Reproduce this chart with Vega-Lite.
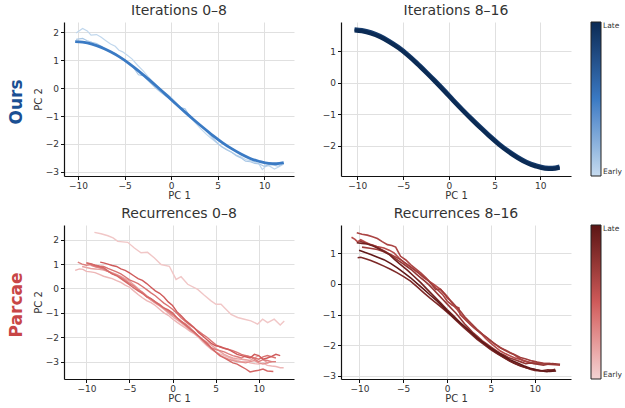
{
"$schema":"https://vega.github.io/schema/vega-lite/v6.json",
"background":"white",
"padding":{"left":8,"top":4,"right":0,"bottom":0},
"config":{
 "font":"DejaVu Sans",
 "view":{"stroke":null},
 "axis":{"gridColor":"#e0e0e0","gridWidth":1,"domainColor":"#111","domainWidth":1.2,"tickColor":"#111","tickSize":3.5,"tickWidth":1,"labelFontSize":9,"labelColor":"#333","labelPadding":2,"titleFontSize":10,"titleFontWeight":"normal","titleColor":"#333","labelFont":"DejaVu Sans","titleFont":"DejaVu Sans","labelFlush":false,"labelOverlap":false},
 "axisX":{"labelPadding":1.5,"titlePadding":0},
 "axisY":{"titlePadding":2},
 "title":{"fontSize":14,"fontWeight":"normal","color":"#333","font":"DejaVu Sans","offset":4},
 "legend":{"labelFontSize":7.5,"labelColor":"#333","labelOffset":2,"gradientStrokeColor":"#222","gradientStrokeWidth":1,"offset":20,"padding":0}
},
"datasets":{
"tl":[
{"s":"a","c":0.02,"x":-10.2,"y":1.98},{"s":"a","c":0.02,"x":-9.5,"y":2.14},{"s":"a","c":0.02,"x":-9.0,"y":2.05},{"s":"a","c":0.02,"x":-8.6,"y":1.9},{"s":"a","c":0.02,"x":-8.0,"y":1.92},{"s":"a","c":0.02,"x":-7.5,"y":1.82},{"s":"a","c":0.02,"x":-7.0,"y":1.7},{"s":"a","c":0.02,"x":-6.5,"y":1.58},{"s":"a","c":0.02,"x":-6.0,"y":1.5},{"s":"a","c":0.02,"x":-5.6,"y":1.36},{"s":"a","c":0.02,"x":-5.2,"y":1.3},{"s":"a","c":0.02,"x":-4.7,"y":1.18},{"s":"a","c":0.02,"x":-4.2,"y":1.05},{"s":"a","c":0.02,"x":-3.6,"y":0.82},{"s":"a","c":0.02,"x":-3.0,"y":0.62},{"s":"a","c":0.02,"x":-2.5,"y":0.42},{"s":"a","c":0.02,"x":-2.0,"y":0.24},{"s":"a","c":0.02,"x":-1.5,"y":0.08},{"s":"a","c":0.02,"x":-1.0,"y":-0.08},{"s":"a","c":0.02,"x":-0.5,"y":-0.2},{"s":"a","c":0.02,"x":0.0,"y":-0.33},{"s":"a","c":0.02,"x":0.5,"y":-0.5},{"s":"a","c":0.02,"x":1.0,"y":-0.7},{"s":"a","c":0.02,"x":1.6,"y":-0.86},{"s":"a","c":0.02,"x":2.2,"y":-1.1},{"s":"a","c":0.02,"x":2.7,"y":-1.28},{"s":"a","c":0.02,"x":3.2,"y":-1.46},{"s":"a","c":0.02,"x":3.8,"y":-1.66},{"s":"a","c":0.02,"x":4.3,"y":-1.8},{"s":"a","c":0.02,"x":4.8,"y":-1.93},{"s":"a","c":0.02,"x":5.4,"y":-2.08},{"s":"a","c":0.02,"x":6.0,"y":-2.2},{"s":"a","c":0.02,"x":6.5,"y":-2.3},{"s":"a","c":0.02,"x":7.0,"y":-2.4},{"s":"a","c":0.02,"x":7.5,"y":-2.46},{"s":"a","c":0.02,"x":8.0,"y":-2.56},{"s":"a","c":0.02,"x":8.5,"y":-2.6},{"s":"a","c":0.02,"x":9.0,"y":-2.65},{"s":"a","c":0.02,"x":9.4,"y":-2.7},{"s":"a","c":0.02,"x":9.8,"y":-2.92},{"s":"a","c":0.02,"x":10.1,"y":-2.82},{"s":"a","c":0.02,"x":10.5,"y":-2.78},{"s":"a","c":0.02,"x":11.1,"y":-2.9},{"s":"a","c":0.02,"x":11.6,"y":-2.82},{"s":"a","c":0.02,"x":12.1,"y":-2.72},
{"s":"b","c":0.1,"x":-10.2,"y":1.75},{"s":"b","c":0.1,"x":-9.5,"y":1.78},{"s":"b","c":0.1,"x":-9,"y":1.7},{"s":"b","c":0.1,"x":-8.5,"y":1.64},{"s":"b","c":0.1,"x":-8,"y":1.6},{"s":"b","c":0.1,"x":-7.5,"y":1.5},{"s":"b","c":0.1,"x":-7,"y":1.38},{"s":"b","c":0.1,"x":-6.5,"y":1.3},{"s":"b","c":0.1,"x":-6,"y":1.24},{"s":"b","c":0.1,"x":-5.5,"y":1.12},{"s":"b","c":0.1,"x":-5,"y":1.02},{"s":"b","c":0.1,"x":-4.5,"y":0.86},{"s":"b","c":0.1,"x":-4,"y":0.72},{"s":"b","c":0.1,"x":-3.5,"y":0.48},{"s":"b","c":0.1,"x":-3,"y":0.45},{"s":"b","c":0.1,"x":-2.5,"y":0.28},{"s":"b","c":0.1,"x":-2,"y":0.12},{"s":"b","c":0.1,"x":-1.5,"y":-0.04},{"s":"b","c":0.1,"x":-1,"y":-0.18},{"s":"b","c":0.1,"x":-0.5,"y":-0.3},{"s":"b","c":0.1,"x":0,"y":-0.4},{"s":"b","c":0.1,"x":0.5,"y":-0.55},{"s":"b","c":0.1,"x":1,"y":-0.7},{"s":"b","c":0.1,"x":1.5,"y":-0.74},{"s":"b","c":0.1,"x":2,"y":-1.0},{"s":"b","c":0.1,"x":2.5,"y":-1.14},{"s":"b","c":0.1,"x":3,"y":-1.3},{"s":"b","c":0.1,"x":3.5,"y":-1.45},{"s":"b","c":0.1,"x":4,"y":-1.62},{"s":"b","c":0.1,"x":4.5,"y":-1.8},{"s":"b","c":0.1,"x":5,"y":-1.98},{"s":"b","c":0.1,"x":5.5,"y":-2.12},{"s":"b","c":0.1,"x":6,"y":-2.22},{"s":"b","c":0.1,"x":6.5,"y":-2.3},{"s":"b","c":0.1,"x":7,"y":-2.42},{"s":"b","c":0.1,"x":7.5,"y":-2.5},{"s":"b","c":0.1,"x":8,"y":-2.62},{"s":"b","c":0.1,"x":8.5,"y":-2.64},{"s":"b","c":0.1,"x":9,"y":-2.7},{"s":"b","c":0.1,"x":9.5,"y":-2.72},{"s":"b","c":0.1,"x":10,"y":-2.8},{"s":"b","c":0.1,"x":10.5,"y":-2.74},{"s":"b","c":0.1,"x":11,"y":-2.76},{"s":"b","c":0.1,"x":11.5,"y":-2.8},{"s":"b","c":0.1,"x":12.1,"y":-2.7}
],
"tlm":[
{"s":"m","c":0.5,"x":-10.3,"y":1.67},{"s":"m","c":0.5,"x":-9.5,"y":1.645},{"s":"m","c":0.5,"x":-8.5,"y":1.575},{"s":"m","c":0.5,"x":-7.5,"y":1.46},{"s":"m","c":0.5,"x":-6.5,"y":1.3},{"s":"m","c":0.5,"x":-5.5,"y":1.11},{"s":"m","c":0.5,"x":-4.5,"y":0.88},{"s":"m","c":0.5,"x":-3.5,"y":0.62},{"s":"m","c":0.5,"x":-2.5,"y":0.34},{"s":"m","c":0.5,"x":-1.5,"y":0.05},{"s":"m","c":0.5,"x":-0.5,"y":-0.25},{"s":"m","c":0.5,"x":0.5,"y":-0.56},{"s":"m","c":0.5,"x":1.5,"y":-0.86},{"s":"m","c":0.5,"x":2.5,"y":-1.15},{"s":"m","c":0.5,"x":3.5,"y":-1.43},{"s":"m","c":0.5,"x":4.5,"y":-1.7},{"s":"m","c":0.5,"x":5.5,"y":-1.95},{"s":"m","c":0.5,"x":6.5,"y":-2.17},{"s":"m","c":0.5,"x":7.5,"y":-2.36},{"s":"m","c":0.5,"x":8.5,"y":-2.52},{"s":"m","c":0.5,"x":9.5,"y":-2.63},{"s":"m","c":0.5,"x":10.5,"y":-2.7},{"s":"m","c":0.5,"x":11.3,"y":-2.71},{"s":"m","c":0.5,"x":12.1,"y":-2.67}
],
"tr":[
{"s":"p","c":0.88,"x":-10.3,"y":1.69},{"s":"p","c":0.88,"x":-9.5,"y":1.665},{"s":"p","c":0.88,"x":-8.5,"y":1.595},{"s":"p","c":0.88,"x":-7.5,"y":1.48},{"s":"p","c":0.88,"x":-6.5,"y":1.32},{"s":"p","c":0.88,"x":-5.5,"y":1.13},{"s":"p","c":0.88,"x":-4.5,"y":0.9},{"s":"p","c":0.88,"x":-3.5,"y":0.64},{"s":"p","c":0.88,"x":-2.5,"y":0.36},{"s":"p","c":0.88,"x":-1.5,"y":0.07},{"s":"p","c":0.88,"x":-0.5,"y":-0.23},{"s":"p","c":0.88,"x":0.5,"y":-0.54},{"s":"p","c":0.88,"x":1.5,"y":-0.84},{"s":"p","c":0.88,"x":2.5,"y":-1.13},{"s":"p","c":0.88,"x":3.5,"y":-1.41},{"s":"p","c":0.88,"x":4.5,"y":-1.68},{"s":"p","c":0.88,"x":5.5,"y":-1.93},{"s":"p","c":0.88,"x":6.5,"y":-2.15},{"s":"p","c":0.88,"x":7.5,"y":-2.34},{"s":"p","c":0.88,"x":8.5,"y":-2.5},{"s":"p","c":0.88,"x":9.5,"y":-2.61},{"s":"p","c":0.88,"x":10.5,"y":-2.68},{"s":"p","c":0.88,"x":11.3,"y":-2.69},{"s":"p","c":0.88,"x":12.1,"y":-2.65},
{"s":"q","c":1.0,"x":-10.3,"y":1.65},{"s":"q","c":1.0,"x":-9.5,"y":1.625},{"s":"q","c":1.0,"x":-8.5,"y":1.555},{"s":"q","c":1.0,"x":-7.5,"y":1.44},{"s":"q","c":1.0,"x":-6.5,"y":1.28},{"s":"q","c":1.0,"x":-5.5,"y":1.09},{"s":"q","c":1.0,"x":-4.5,"y":0.86},{"s":"q","c":1.0,"x":-3.5,"y":0.6},{"s":"q","c":1.0,"x":-2.5,"y":0.32},{"s":"q","c":1.0,"x":-1.5,"y":0.03},{"s":"q","c":1.0,"x":-0.5,"y":-0.27},{"s":"q","c":1.0,"x":0.5,"y":-0.58},{"s":"q","c":1.0,"x":1.5,"y":-0.88},{"s":"q","c":1.0,"x":2.5,"y":-1.17},{"s":"q","c":1.0,"x":3.5,"y":-1.45},{"s":"q","c":1.0,"x":4.5,"y":-1.72},{"s":"q","c":1.0,"x":5.5,"y":-1.97},{"s":"q","c":1.0,"x":6.5,"y":-2.19},{"s":"q","c":1.0,"x":7.5,"y":-2.38},{"s":"q","c":1.0,"x":8.5,"y":-2.54},{"s":"q","c":1.0,"x":9.5,"y":-2.65},{"s":"q","c":1.0,"x":10.5,"y":-2.72},{"s":"q","c":1.0,"x":11.3,"y":-2.73},{"s":"q","c":1.0,"x":12.1,"y":-2.69}
],
"bl":[
{"s":"F","c":0.05,"x":-9.07,"y":2.3},{"s":"F","c":0.05,"x":-8.3,"y":2.24},{"s":"F","c":0.05,"x":-7.5,"y":2.16},{"s":"F","c":0.05,"x":-6.9,"y":2.07},{"s":"F","c":0.05,"x":-6.36,"y":1.93},{"s":"F","c":0.05,"x":-5.2,"y":1.89},{"s":"F","c":0.05,"x":-4.43,"y":1.66},{"s":"F","c":0.05,"x":-3.66,"y":1.46},{"s":"F","c":0.05,"x":-2.9,"y":1.48},{"s":"F","c":0.05,"x":-2.1,"y":1.25},{"s":"F","c":0.05,"x":-1.33,"y":0.98},{"s":"F","c":0.05,"x":-0.37,"y":0.91},{"s":"F","c":0.05,"x":0.41,"y":0.37},{"s":"F","c":0.05,"x":0.99,"y":0.48},{"s":"F","c":0.05,"x":1.76,"y":0.17},{"s":"F","c":0.05,"x":2.92,"y":-0.04},{"s":"F","c":0.05,"x":3.69,"y":-0.28},{"s":"F","c":0.05,"x":4.47,"y":-0.51},{"s":"F","c":0.05,"x":5.05,"y":-0.65},{"s":"F","c":0.05,"x":5.63,"y":-0.65},{"s":"F","c":0.05,"x":6.4,"y":-0.92},{"s":"F","c":0.05,"x":6.79,"y":-1.06},{"s":"F","c":0.05,"x":7.56,"y":-1.19},{"s":"F","c":0.05,"x":8.34,"y":-1.26},{"s":"F","c":0.05,"x":9.1,"y":-1.33},{"s":"F","c":0.05,"x":9.88,"y":-1.46},{"s":"F","c":0.05,"x":10.46,"y":-1.26},{"s":"F","c":0.05,"x":11.04,"y":-1.4},{"s":"F","c":0.05,"x":11.8,"y":-1.26},{"s":"F","c":0.05,"x":12.5,"y":-1.5},{"s":"F","c":0.05,"x":12.97,"y":-1.33},
{"s":"L3","c":0.12,"x":-11.3,"y":0.74},{"s":"L3","c":0.12,"x":-10.8,"y":0.8},{"s":"L3","c":0.12,"x":-10.4,"y":0.78},{"s":"L3","c":0.12,"x":-10,"y":0.7},{"s":"L3","c":0.12,"x":-9.5,"y":0.68},{"s":"L3","c":0.12,"x":-9,"y":0.65},{"s":"L3","c":0.12,"x":-8.5,"y":0.58},{"s":"L3","c":0.12,"x":-8,"y":0.5},{"s":"L3","c":0.12,"x":-7.5,"y":0.45},{"s":"L3","c":0.12,"x":-7,"y":0.4},{"s":"L3","c":0.12,"x":-6.5,"y":0.32},{"s":"L3","c":0.12,"x":-6,"y":0.25},{"s":"L3","c":0.12,"x":-5.5,"y":0.14},{"s":"L3","c":0.12,"x":-5,"y":0.05},{"s":"L3","c":0.12,"x":-4.5,"y":-0.1},{"s":"L3","c":0.12,"x":-4,"y":-0.25},{"s":"L3","c":0.12,"x":-3.5,"y":-0.38},{"s":"L3","c":0.12,"x":-3,"y":-0.5},{"s":"L3","c":0.12,"x":-2.5,"y":-0.58},{"s":"L3","c":0.12,"x":-2,"y":-0.7},{"s":"L3","c":0.12,"x":-1.5,"y":-0.85},{"s":"L3","c":0.12,"x":-1,"y":-1.0},{"s":"L3","c":0.12,"x":-0.5,"y":-1.1},{"s":"L3","c":0.12,"x":0,"y":-1.25},{"s":"L3","c":0.12,"x":0.5,"y":-1.38},{"s":"L3","c":0.12,"x":1,"y":-1.5},{"s":"L3","c":0.12,"x":1.5,"y":-1.62},{"s":"L3","c":0.12,"x":2,"y":-1.75},{"s":"L3","c":0.12,"x":2.5,"y":-1.85},{"s":"L3","c":0.12,"x":3,"y":-2.0},{"s":"L3","c":0.12,"x":3.5,"y":-2.18},{"s":"L3","c":0.12,"x":4,"y":-2.35},{"s":"L3","c":0.12,"x":4.5,"y":-2.5},{"s":"L3","c":0.12,"x":5,"y":-2.6},{"s":"L3","c":0.12,"x":5.5,"y":-2.68},{"s":"L3","c":0.12,"x":6,"y":-2.75},{"s":"L3","c":0.12,"x":6.5,"y":-2.82},{"s":"L3","c":0.12,"x":7,"y":-2.9},{"s":"L3","c":0.12,"x":7.5,"y":-2.95},{"s":"L3","c":0.12,"x":8,"y":-3.0},{"s":"L3","c":0.12,"x":8.5,"y":-2.98},{"s":"L3","c":0.12,"x":9,"y":-3.05},{"s":"L3","c":0.12,"x":9.5,"y":-3.08},{"s":"L3","c":0.12,"x":10,"y":-3.1},{"s":"L3","c":0.12,"x":10.5,"y":-3.05},{"s":"L3","c":0.12,"x":11,"y":-3.15},{"s":"L3","c":0.12,"x":11.5,"y":-3.18},{"s":"L3","c":0.12,"x":12,"y":-3.2},{"s":"L3","c":0.12,"x":12.5,"y":-3.25},{"s":"L3","c":0.12,"x":12.9,"y":-3.25},
{"s":"L5","c":0.2,"x":-10.5,"y":0.9},{"s":"L5","c":0.2,"x":-10,"y":0.86},{"s":"L5","c":0.2,"x":-9.5,"y":0.82},{"s":"L5","c":0.2,"x":-9,"y":0.8},{"s":"L5","c":0.2,"x":-8.5,"y":0.78},{"s":"L5","c":0.2,"x":-8,"y":0.75},{"s":"L5","c":0.2,"x":-7.5,"y":0.7},{"s":"L5","c":0.2,"x":-7,"y":0.65},{"s":"L5","c":0.2,"x":-6.5,"y":0.58},{"s":"L5","c":0.2,"x":-6,"y":0.5},{"s":"L5","c":0.2,"x":-5.5,"y":0.4},{"s":"L5","c":0.2,"x":-5,"y":0.3},{"s":"L5","c":0.2,"x":-4.5,"y":0.15},{"s":"L5","c":0.2,"x":-4,"y":0.0},{"s":"L5","c":0.2,"x":-3.5,"y":-0.18},{"s":"L5","c":0.2,"x":-3,"y":-0.35},{"s":"L5","c":0.2,"x":-2.5,"y":-0.48},{"s":"L5","c":0.2,"x":-2,"y":-0.6},{"s":"L5","c":0.2,"x":-1.5,"y":-0.72},{"s":"L5","c":0.2,"x":-1,"y":-0.85},{"s":"L5","c":0.2,"x":-0.5,"y":-1.0},{"s":"L5","c":0.2,"x":0,"y":-1.15},{"s":"L5","c":0.2,"x":0.5,"y":-1.28},{"s":"L5","c":0.2,"x":1,"y":-1.4},{"s":"L5","c":0.2,"x":1.5,"y":-1.55},{"s":"L5","c":0.2,"x":2,"y":-1.7},{"s":"L5","c":0.2,"x":2.5,"y":-1.82},{"s":"L5","c":0.2,"x":3,"y":-1.95},{"s":"L5","c":0.2,"x":3.5,"y":-2.08},{"s":"L5","c":0.2,"x":4,"y":-2.2},{"s":"L5","c":0.2,"x":4.5,"y":-2.32},{"s":"L5","c":0.2,"x":5,"y":-2.45},{"s":"L5","c":0.2,"x":5.5,"y":-2.58},{"s":"L5","c":0.2,"x":6,"y":-2.7},{"s":"L5","c":0.2,"x":6.5,"y":-2.78},{"s":"L5","c":0.2,"x":7,"y":-2.85},{"s":"L5","c":0.2,"x":7.5,"y":-2.88},{"s":"L5","c":0.2,"x":8,"y":-2.9},{"s":"L5","c":0.2,"x":8.5,"y":-2.92},{"s":"L5","c":0.2,"x":9,"y":-2.95},{"s":"L5","c":0.2,"x":9.5,"y":-2.85},{"s":"L5","c":0.2,"x":10,"y":-2.75},{"s":"L5","c":0.2,"x":10.5,"y":-2.9},{"s":"L5","c":0.2,"x":11,"y":-3.05},{"s":"L5","c":0.2,"x":11.5,"y":-3.0},{"s":"L5","c":0.2,"x":12,"y":-3.0},
{"s":"L7","c":0.28,"x":-9.5,"y":0.95},{"s":"L7","c":0.28,"x":-9,"y":0.9},{"s":"L7","c":0.28,"x":-8.5,"y":0.85},{"s":"L7","c":0.28,"x":-8,"y":0.78},{"s":"L7","c":0.28,"x":-7.5,"y":0.7},{"s":"L7","c":0.28,"x":-7,"y":0.62},{"s":"L7","c":0.28,"x":-6.5,"y":0.55},{"s":"L7","c":0.28,"x":-6,"y":0.45},{"s":"L7","c":0.28,"x":-5.5,"y":0.35},{"s":"L7","c":0.28,"x":-5,"y":0.22},{"s":"L7","c":0.28,"x":-4.5,"y":0.1},{"s":"L7","c":0.28,"x":-4,"y":-0.05},{"s":"L7","c":0.28,"x":-3.5,"y":-0.2},{"s":"L7","c":0.28,"x":-3,"y":-0.32},{"s":"L7","c":0.28,"x":-2.5,"y":-0.45},{"s":"L7","c":0.28,"x":-2,"y":-0.58},{"s":"L7","c":0.28,"x":-1.5,"y":-0.7},{"s":"L7","c":0.28,"x":-1,"y":-0.82},{"s":"L7","c":0.28,"x":-0.5,"y":-0.95},{"s":"L7","c":0.28,"x":0,"y":-1.08},{"s":"L7","c":0.28,"x":0.5,"y":-1.2},{"s":"L7","c":0.28,"x":1,"y":-1.35},{"s":"L7","c":0.28,"x":1.5,"y":-1.5},{"s":"L7","c":0.28,"x":2,"y":-1.65},{"s":"L7","c":0.28,"x":2.5,"y":-1.8},{"s":"L7","c":0.28,"x":3,"y":-1.95},{"s":"L7","c":0.28,"x":3.5,"y":-2.1},{"s":"L7","c":0.28,"x":4,"y":-2.28},{"s":"L7","c":0.28,"x":4.5,"y":-2.45},{"s":"L7","c":0.28,"x":5,"y":-2.6},{"s":"L7","c":0.28,"x":5.5,"y":-2.75},{"s":"L7","c":0.28,"x":6,"y":-2.82},{"s":"L7","c":0.28,"x":6.5,"y":-2.9},{"s":"L7","c":0.28,"x":7,"y":-2.95},{"s":"L7","c":0.28,"x":7.5,"y":-3.0},{"s":"L7","c":0.28,"x":8,"y":-3.02},{"s":"L7","c":0.28,"x":8.5,"y":-3.05},{"s":"L7","c":0.28,"x":9,"y":-3.0},{"s":"L7","c":0.28,"x":9.5,"y":-2.95},{"s":"L7","c":0.28,"x":10,"y":-3.05},{"s":"L7","c":0.28,"x":10.5,"y":-3.1},{"s":"L7","c":0.28,"x":11,"y":-3.05},{"s":"L7","c":0.28,"x":11.5,"y":-3.0},
{"s":"L4","c":0.35,"x":-11,"y":1.08},{"s":"L4","c":0.35,"x":-10.5,"y":1.0},{"s":"L4","c":0.35,"x":-10,"y":0.95},{"s":"L4","c":0.35,"x":-9.5,"y":0.98},{"s":"L4","c":0.35,"x":-9,"y":0.9},{"s":"L4","c":0.35,"x":-8.5,"y":0.86},{"s":"L4","c":0.35,"x":-8,"y":0.8},{"s":"L4","c":0.35,"x":-7.5,"y":0.7},{"s":"L4","c":0.35,"x":-7,"y":0.6},{"s":"L4","c":0.35,"x":-6.5,"y":0.55},{"s":"L4","c":0.35,"x":-6,"y":0.45},{"s":"L4","c":0.35,"x":-5.5,"y":0.32},{"s":"L4","c":0.35,"x":-5,"y":0.2},{"s":"L4","c":0.35,"x":-4.5,"y":0.1},{"s":"L4","c":0.35,"x":-4,"y":-0.05},{"s":"L4","c":0.35,"x":-3.5,"y":-0.15},{"s":"L4","c":0.35,"x":-3,"y":-0.3},{"s":"L4","c":0.35,"x":-2.5,"y":-0.42},{"s":"L4","c":0.35,"x":-2,"y":-0.55},{"s":"L4","c":0.35,"x":-1.5,"y":-0.65},{"s":"L4","c":0.35,"x":-1,"y":-0.8},{"s":"L4","c":0.35,"x":-0.5,"y":-0.92},{"s":"L4","c":0.35,"x":0,"y":-1.05},{"s":"L4","c":0.35,"x":0.5,"y":-1.2},{"s":"L4","c":0.35,"x":1,"y":-1.35},{"s":"L4","c":0.35,"x":1.5,"y":-1.45},{"s":"L4","c":0.35,"x":2,"y":-1.6},{"s":"L4","c":0.35,"x":2.5,"y":-1.78},{"s":"L4","c":0.35,"x":3,"y":-1.95},{"s":"L4","c":0.35,"x":3.5,"y":-2.12},{"s":"L4","c":0.35,"x":4,"y":-2.3},{"s":"L4","c":0.35,"x":4.5,"y":-2.42},{"s":"L4","c":0.35,"x":5,"y":-2.5},{"s":"L4","c":0.35,"x":5.5,"y":-2.55},{"s":"L4","c":0.35,"x":6,"y":-2.6},{"s":"L4","c":0.35,"x":6.5,"y":-2.68},{"s":"L4","c":0.35,"x":7,"y":-2.75},{"s":"L4","c":0.35,"x":7.5,"y":-2.8},{"s":"L4","c":0.35,"x":8,"y":-2.85},{"s":"L4","c":0.35,"x":8.5,"y":-2.75},{"s":"L4","c":0.35,"x":9,"y":-2.8},{"s":"L4","c":0.35,"x":9.5,"y":-2.9},{"s":"L4","c":0.35,"x":10,"y":-3.0},{"s":"L4","c":0.35,"x":10.5,"y":-2.92},{"s":"L4","c":0.35,"x":11,"y":-2.95},{"s":"L4","c":0.35,"x":11.5,"y":-3.0},{"s":"L4","c":0.35,"x":12,"y":-3.0},
{"s":"L6","c":0.4,"x":-10,"y":1.05},{"s":"L6","c":0.4,"x":-9.5,"y":1.0},{"s":"L6","c":0.4,"x":-9,"y":0.95},{"s":"L6","c":0.4,"x":-8.5,"y":0.92},{"s":"L6","c":0.4,"x":-8,"y":0.9},{"s":"L6","c":0.4,"x":-7.5,"y":0.82},{"s":"L6","c":0.4,"x":-7,"y":0.75},{"s":"L6","c":0.4,"x":-6.5,"y":0.68},{"s":"L6","c":0.4,"x":-6,"y":0.6},{"s":"L6","c":0.4,"x":-5.5,"y":0.48},{"s":"L6","c":0.4,"x":-5,"y":0.35},{"s":"L6","c":0.4,"x":-4.5,"y":0.28},{"s":"L6","c":0.4,"x":-4,"y":0.2},{"s":"L6","c":0.4,"x":-3.5,"y":0.08},{"s":"L6","c":0.4,"x":-3,"y":-0.05},{"s":"L6","c":0.4,"x":-2.5,"y":-0.18},{"s":"L6","c":0.4,"x":-2,"y":-0.3},{"s":"L6","c":0.4,"x":-1.5,"y":-0.45},{"s":"L6","c":0.4,"x":-1,"y":-0.6},{"s":"L6","c":0.4,"x":-0.5,"y":-0.72},{"s":"L6","c":0.4,"x":0,"y":-0.85},{"s":"L6","c":0.4,"x":0.5,"y":-1.02},{"s":"L6","c":0.4,"x":1,"y":-1.2},{"s":"L6","c":0.4,"x":1.5,"y":-1.35},{"s":"L6","c":0.4,"x":2,"y":-1.5},{"s":"L6","c":0.4,"x":2.5,"y":-1.62},{"s":"L6","c":0.4,"x":3,"y":-1.75},{"s":"L6","c":0.4,"x":3.5,"y":-1.88},{"s":"L6","c":0.4,"x":4,"y":-2.0},{"s":"L6","c":0.4,"x":4.5,"y":-2.15},{"s":"L6","c":0.4,"x":5,"y":-2.3},{"s":"L6","c":0.4,"x":5.5,"y":-2.4},{"s":"L6","c":0.4,"x":6,"y":-2.45},{"s":"L6","c":0.4,"x":6.5,"y":-2.5},{"s":"L6","c":0.4,"x":7,"y":-2.55},{"s":"L6","c":0.4,"x":7.5,"y":-2.62},{"s":"L6","c":0.4,"x":8,"y":-2.7},{"s":"L6","c":0.4,"x":8.5,"y":-2.75},{"s":"L6","c":0.4,"x":9,"y":-2.8},{"s":"L6","c":0.4,"x":9.5,"y":-2.85},{"s":"L6","c":0.4,"x":10,"y":-2.9},{"s":"L6","c":0.4,"x":10.5,"y":-2.8},{"s":"L6","c":0.4,"x":11,"y":-2.75},{"s":"L6","c":0.4,"x":11.5,"y":-2.8},{"s":"L6","c":0.4,"x":12,"y":-2.85},
{"s":"L2","c":0.45,"x":-10,"y":1.05},{"s":"L2","c":0.45,"x":-9.5,"y":1.02},{"s":"L2","c":0.45,"x":-9,"y":0.95},{"s":"L2","c":0.45,"x":-8.5,"y":0.9},{"s":"L2","c":0.45,"x":-8,"y":0.85},{"s":"L2","c":0.45,"x":-7.5,"y":0.72},{"s":"L2","c":0.45,"x":-7,"y":0.6},{"s":"L2","c":0.45,"x":-6.5,"y":0.52},{"s":"L2","c":0.45,"x":-6,"y":0.4},{"s":"L2","c":0.45,"x":-5.5,"y":0.28},{"s":"L2","c":0.45,"x":-5,"y":0.15},{"s":"L2","c":0.45,"x":-4.5,"y":0.02},{"s":"L2","c":0.45,"x":-4,"y":-0.1},{"s":"L2","c":0.45,"x":-3.5,"y":-0.2},{"s":"L2","c":0.45,"x":-3,"y":-0.35},{"s":"L2","c":0.45,"x":-2.5,"y":-0.42},{"s":"L2","c":0.45,"x":-2,"y":-0.55},{"s":"L2","c":0.45,"x":-1.5,"y":-0.68},{"s":"L2","c":0.45,"x":-1,"y":-0.8},{"s":"L2","c":0.45,"x":-0.5,"y":-0.88},{"s":"L2","c":0.45,"x":0,"y":-1.0},{"s":"L2","c":0.45,"x":0.5,"y":-1.2},{"s":"L2","c":0.45,"x":1,"y":-1.35},{"s":"L2","c":0.45,"x":1.5,"y":-1.5},{"s":"L2","c":0.45,"x":2,"y":-1.65},{"s":"L2","c":0.45,"x":2.5,"y":-1.78},{"s":"L2","c":0.45,"x":3,"y":-1.95},{"s":"L2","c":0.45,"x":3.5,"y":-2.1},{"s":"L2","c":0.45,"x":4,"y":-2.25},{"s":"L2","c":0.45,"x":4.5,"y":-2.45},{"s":"L2","c":0.45,"x":5,"y":-2.6},{"s":"L2","c":0.45,"x":5.5,"y":-2.75},{"s":"L2","c":0.45,"x":6,"y":-2.85},{"s":"L2","c":0.45,"x":6.5,"y":-2.95},{"s":"L2","c":0.45,"x":7,"y":-3.05},{"s":"L2","c":0.45,"x":7.5,"y":-3.1},{"s":"L2","c":0.45,"x":8,"y":-3.2},{"s":"L2","c":0.45,"x":8.5,"y":-3.3},{"s":"L2","c":0.45,"x":9,"y":-3.42},{"s":"L2","c":0.45,"x":9.5,"y":-3.38},{"s":"L2","c":0.45,"x":10,"y":-3.35},{"s":"L2","c":0.45,"x":10.5,"y":-3.3},{"s":"L2","c":0.45,"x":11,"y":-3.38},{"s":"L2","c":0.45,"x":11.7,"y":-3.4},
{"s":"L1","c":0.5,"x":-8.4,"y":1.08},{"s":"L1","c":0.5,"x":-8,"y":1.05},{"s":"L1","c":0.5,"x":-7.5,"y":1.0},{"s":"L1","c":0.5,"x":-7,"y":0.94},{"s":"L1","c":0.5,"x":-6.5,"y":0.9},{"s":"L1","c":0.5,"x":-6,"y":0.8},{"s":"L1","c":0.5,"x":-5.5,"y":0.74},{"s":"L1","c":0.5,"x":-5,"y":0.64},{"s":"L1","c":0.5,"x":-4.5,"y":0.52},{"s":"L1","c":0.5,"x":-4,"y":0.4},{"s":"L1","c":0.5,"x":-3.5,"y":0.33},{"s":"L1","c":0.5,"x":-3,"y":0.2},{"s":"L1","c":0.5,"x":-2.5,"y":0.05},{"s":"L1","c":0.5,"x":-2,"y":-0.1},{"s":"L1","c":0.5,"x":-1.5,"y":-0.2},{"s":"L1","c":0.5,"x":-1,"y":-0.35},{"s":"L1","c":0.5,"x":-0.5,"y":-0.55},{"s":"L1","c":0.5,"x":0,"y":-0.7},{"s":"L1","c":0.5,"x":0.5,"y":-0.95},{"s":"L1","c":0.5,"x":1,"y":-1.12},{"s":"L1","c":0.5,"x":1.5,"y":-1.3},{"s":"L1","c":0.5,"x":2,"y":-1.45},{"s":"L1","c":0.5,"x":2.5,"y":-1.6},{"s":"L1","c":0.5,"x":3,"y":-1.8},{"s":"L1","c":0.5,"x":3.5,"y":-1.95},{"s":"L1","c":0.5,"x":4,"y":-2.1},{"s":"L1","c":0.5,"x":4.5,"y":-2.25},{"s":"L1","c":0.5,"x":5,"y":-2.35},{"s":"L1","c":0.5,"x":5.5,"y":-2.38},{"s":"L1","c":0.5,"x":6,"y":-2.45},{"s":"L1","c":0.5,"x":6.5,"y":-2.5},{"s":"L1","c":0.5,"x":7,"y":-2.6},{"s":"L1","c":0.5,"x":7.5,"y":-2.7},{"s":"L1","c":0.5,"x":8,"y":-2.75},{"s":"L1","c":0.5,"x":8.5,"y":-2.8},{"s":"L1","c":0.5,"x":9,"y":-2.85},{"s":"L1","c":0.5,"x":9.5,"y":-2.7},{"s":"L1","c":0.5,"x":10,"y":-2.75},{"s":"L1","c":0.5,"x":10.5,"y":-2.9},{"s":"L1","c":0.5,"x":11,"y":-2.85},{"s":"L1","c":0.5,"x":11.5,"y":-2.78},{"s":"L1","c":0.5,"x":12,"y":-2.7},{"s":"L1","c":0.5,"x":12.5,"y":-2.75}
],
"br":[
{"s":"R5","c":0.6,"x":-10.9,"y":1.52},{"s":"R5","c":0.6,"x":-10.5,"y":1.45},{"s":"R5","c":0.6,"x":-10.2,"y":1.37},{"s":"R5","c":0.6,"x":-9.85,"y":1.44},{"s":"R5","c":0.6,"x":-9.3,"y":1.36},{"s":"R5","c":0.6,"x":-8.7,"y":1.28},{"s":"R5","c":0.6,"x":-8,"y":1.22},{"s":"R5","c":0.6,"x":-7.2,"y":1.17},{"s":"R5","c":0.6,"x":-6.6,"y":1.1},{"s":"R5","c":0.6,"x":-6.05,"y":1.01},{"s":"R5","c":0.6,"x":-5.5,"y":0.85},{"s":"R5","c":0.6,"x":-4.9,"y":0.69},{"s":"R5","c":0.6,"x":-4.3,"y":0.58},{"s":"R5","c":0.6,"x":-3.78,"y":0.47},{"s":"R5","c":0.6,"x":-3.2,"y":0.34},{"s":"R5","c":0.6,"x":-2.64,"y":0.2},{"s":"R5","c":0.6,"x":-2.1,"y":0.1},{"s":"R5","c":0.6,"x":-1.5,"y":-0.02},{"s":"R5","c":0.6,"x":-0.74,"y":-0.18},{"s":"R5","c":0.6,"x":0.02,"y":-0.4},{"s":"R5","c":0.6,"x":0.4,"y":-0.55},{"s":"R5","c":0.6,"x":0.78,"y":-0.72},{"s":"R5","c":0.6,"x":1.2,"y":-0.85},{"s":"R5","c":0.6,"x":1.54,"y":-0.99},{"s":"R5","c":0.6,"x":2.1,"y":-1.15},{"s":"R5","c":0.6,"x":2.68,"y":-1.32},{"s":"R5","c":0.6,"x":3.2,"y":-1.45},{"s":"R5","c":0.6,"x":3.8,"y":-1.59},{"s":"R5","c":0.6,"x":4.4,"y":-1.78},{"s":"R5","c":0.6,"x":4.95,"y":-1.92},{"s":"R5","c":0.6,"x":5.5,"y":-2.05},{"s":"R5","c":0.6,"x":6.09,"y":-2.19},{"s":"R5","c":0.6,"x":6.7,"y":-2.28},{"s":"R5","c":0.6,"x":7.23,"y":-2.35},{"s":"R5","c":0.6,"x":7.8,"y":-2.42},{"s":"R5","c":0.6,"x":8.37,"y":-2.46},{"s":"R5","c":0.6,"x":9,"y":-2.52},{"s":"R5","c":0.6,"x":9.5,"y":-2.57},{"s":"R5","c":0.6,"x":10.2,"y":-2.58},{"s":"R5","c":0.6,"x":11,"y":-2.6},{"s":"R5","c":0.6,"x":11.7,"y":-2.6},{"s":"R5","c":0.6,"x":12.45,"y":-2.62},
{"s":"R1","c":0.65,"x":-10.3,"y":1.67},{"s":"R1","c":0.65,"x":-9.7,"y":1.62},{"s":"R1","c":0.65,"x":-9.1,"y":1.59},{"s":"R1","c":0.65,"x":-8.5,"y":1.54},{"s":"R1","c":0.65,"x":-7.95,"y":1.48},{"s":"R1","c":0.65,"x":-7.4,"y":1.38},{"s":"R1","c":0.65,"x":-6.8,"y":1.28},{"s":"R1","c":0.65,"x":-6.3,"y":1.25},{"s":"R1","c":0.65,"x":-5.86,"y":1.2},{"s":"R1","c":0.65,"x":-5.3,"y":0.9},{"s":"R1","c":0.65,"x":-4.7,"y":0.78},{"s":"R1","c":0.65,"x":-4.16,"y":0.63},{"s":"R1","c":0.65,"x":-3.6,"y":0.5},{"s":"R1","c":0.65,"x":-3.0,"y":0.36},{"s":"R1","c":0.65,"x":-2.4,"y":0.2},{"s":"R1","c":0.65,"x":-1.88,"y":0.04},{"s":"R1","c":0.65,"x":-1.5,"y":-0.06},{"s":"R1","c":0.65,"x":-1.12,"y":-0.18},{"s":"R1","c":0.65,"x":-0.5,"y":-0.35},{"s":"R1","c":0.65,"x":0.02,"y":-0.56},{"s":"R1","c":0.65,"x":0.6,"y":-0.7},{"s":"R1","c":0.65,"x":1.35,"y":-0.78},{"s":"R1","c":0.65,"x":1.5,"y":-1.0},{"s":"R1","c":0.65,"x":2.2,"y":-1.2},{"s":"R1","c":0.65,"x":3.05,"y":-1.43},{"s":"R1","c":0.65,"x":3.8,"y":-1.6},{"s":"R1","c":0.65,"x":4.57,"y":-1.75},{"s":"R1","c":0.65,"x":5.3,"y":-1.92},{"s":"R1","c":0.65,"x":6.09,"y":-2.08},{"s":"R1","c":0.65,"x":6.8,"y":-2.2},{"s":"R1","c":0.65,"x":7.6,"y":-2.3},{"s":"R1","c":0.65,"x":8.2,"y":-2.42},{"s":"R1","c":0.65,"x":8.75,"y":-2.51},{"s":"R1","c":0.65,"x":9.3,"y":-2.55},{"s":"R1","c":0.65,"x":9.9,"y":-2.59},{"s":"R1","c":0.65,"x":10.6,"y":-2.6},{"s":"R1","c":0.65,"x":11.4,"y":-2.62},{"s":"R1","c":0.65,"x":12.2,"y":-2.63},{"s":"R1","c":0.65,"x":12.9,"y":-2.65},
{"s":"R6","c":0.7,"x":-9.7,"y":1.2},{"s":"R6","c":0.7,"x":-8.8,"y":1.16},{"s":"R6","c":0.7,"x":-7.95,"y":1.12},{"s":"R6","c":0.7,"x":-7.2,"y":1.05},{"s":"R6","c":0.7,"x":-6.43,"y":0.96},{"s":"R6","c":0.7,"x":-5.9,"y":0.88},{"s":"R6","c":0.7,"x":-5.3,"y":0.79},{"s":"R6","c":0.7,"x":-4.5,"y":0.63},{"s":"R6","c":0.7,"x":-3.78,"y":0.47},{"s":"R6","c":0.7,"x":-3.0,"y":0.3},{"s":"R6","c":0.7,"x":-2.26,"y":0.14},{"s":"R6","c":0.7,"x":-1.8,"y":0.0},{"s":"R6","c":0.7,"x":-1.3,"y":-0.18},{"s":"R6","c":0.7,"x":-0.74,"y":-0.18},{"s":"R6","c":0.7,"x":-0.3,"y":-0.32},{"s":"R6","c":0.7,"x":0.02,"y":-0.45},{"s":"R6","c":0.7,"x":0.6,"y":-0.6},{"s":"R6","c":0.7,"x":1.16,"y":-0.78},{"s":"R6","c":0.7,"x":1.6,"y":-0.92},{"s":"R6","c":0.7,"x":2.1,"y":-1.1},{"s":"R6","c":0.7,"x":2.8,"y":-1.3},{"s":"R6","c":0.7,"x":3.43,"y":-1.48},{"s":"R6","c":0.7,"x":4.1,"y":-1.65},{"s":"R6","c":0.7,"x":4.76,"y":-1.81},{"s":"R6","c":0.7,"x":5.4,"y":-1.95},{"s":"R6","c":0.7,"x":6.09,"y":-2.08},{"s":"R6","c":0.7,"x":6.7,"y":-2.16},{"s":"R6","c":0.7,"x":7.23,"y":-2.24},{"s":"R6","c":0.7,"x":7.8,"y":-2.32},{"s":"R6","c":0.7,"x":8.37,"y":-2.4},{"s":"R6","c":0.7,"x":9.0,"y":-2.45},{"s":"R6","c":0.7,"x":9.7,"y":-2.51},{"s":"R6","c":0.7,"x":10.3,"y":-2.55},{"s":"R6","c":0.7,"x":11,"y":-2.59},{"s":"R6","c":0.7,"x":11.7,"y":-2.6},{"s":"R6","c":0.7,"x":12.35,"y":-2.62},
{"s":"R7","c":0.75,"x":-10,"y":1.4},{"s":"R7","c":0.75,"x":-9.5,"y":1.35},{"s":"R7","c":0.75,"x":-9,"y":1.3},{"s":"R7","c":0.75,"x":-8.5,"y":1.26},{"s":"R7","c":0.75,"x":-8,"y":1.2},{"s":"R7","c":0.75,"x":-7.5,"y":1.12},{"s":"R7","c":0.75,"x":-7,"y":1.05},{"s":"R7","c":0.75,"x":-6.5,"y":0.95},{"s":"R7","c":0.75,"x":-6,"y":0.85},{"s":"R7","c":0.75,"x":-5.5,"y":0.75},{"s":"R7","c":0.75,"x":-5,"y":0.65},{"s":"R7","c":0.75,"x":-4.5,"y":0.55},{"s":"R7","c":0.75,"x":-4,"y":0.45},{"s":"R7","c":0.75,"x":-3.5,"y":0.32},{"s":"R7","c":0.75,"x":-3,"y":0.2},{"s":"R7","c":0.75,"x":-2.5,"y":0.08},{"s":"R7","c":0.75,"x":-2,"y":-0.05},{"s":"R7","c":0.75,"x":-1.5,"y":-0.2},{"s":"R7","c":0.75,"x":-1,"y":-0.35},{"s":"R7","c":0.75,"x":-0.5,"y":-0.5},{"s":"R7","c":0.75,"x":0,"y":-0.65},{"s":"R7","c":0.75,"x":0.5,"y":-0.8},{"s":"R7","c":0.75,"x":1,"y":-0.95},{"s":"R7","c":0.75,"x":1.5,"y":-1.12},{"s":"R7","c":0.75,"x":2,"y":-1.3},{"s":"R7","c":0.75,"x":2.5,"y":-1.45},{"s":"R7","c":0.75,"x":3,"y":-1.6},{"s":"R7","c":0.75,"x":3.5,"y":-1.72},{"s":"R7","c":0.75,"x":4,"y":-1.85},{"s":"R7","c":0.75,"x":4.5,"y":-1.95},{"s":"R7","c":0.75,"x":5,"y":-2.05},{"s":"R7","c":0.75,"x":5.5,"y":-2.15},{"s":"R7","c":0.75,"x":6,"y":-2.25},{"s":"R7","c":0.75,"x":6.5,"y":-2.32},{"s":"R7","c":0.75,"x":7,"y":-2.4},{"s":"R7","c":0.75,"x":7.5,"y":-2.45},{"s":"R7","c":0.75,"x":8,"y":-2.5},{"s":"R7","c":0.75,"x":8.5,"y":-2.55},{"s":"R7","c":0.75,"x":9,"y":-2.6},{"s":"R7","c":0.75,"x":9.5,"y":-2.58},{"s":"R7","c":0.75,"x":10,"y":-2.6},{"s":"R7","c":0.75,"x":10.5,"y":-2.63},{"s":"R7","c":0.75,"x":11,"y":-2.65},{"s":"R7","c":0.75,"x":11.5,"y":-2.62},{"s":"R7","c":0.75,"x":12,"y":-2.6},{"s":"R7","c":0.75,"x":12.9,"y":-2.62},
{"s":"R4","c":0.85,"x":-10.2,"y":0.85},{"s":"R4","c":0.85,"x":-9.85,"y":0.87},{"s":"R4","c":0.85,"x":-9.3,"y":0.82},{"s":"R4","c":0.85,"x":-8.7,"y":0.76},{"s":"R4","c":0.85,"x":-8,"y":0.68},{"s":"R4","c":0.85,"x":-7.2,"y":0.58},{"s":"R4","c":0.85,"x":-6.4,"y":0.47},{"s":"R4","c":0.85,"x":-5.67,"y":0.36},{"s":"R4","c":0.85,"x":-4.9,"y":0.23},{"s":"R4","c":0.85,"x":-4.16,"y":0.09},{"s":"R4","c":0.85,"x":-3.4,"y":-0.1},{"s":"R4","c":0.85,"x":-2.64,"y":-0.29},{"s":"R4","c":0.85,"x":-1.9,"y":-0.47},{"s":"R4","c":0.85,"x":-1.12,"y":-0.65},{"s":"R4","c":0.85,"x":-0.36,"y":-0.83},{"s":"R4","c":0.85,"x":0.4,"y":-1.02},{"s":"R4","c":0.85,"x":1.15,"y":-1.22},{"s":"R4","c":0.85,"x":1.92,"y":-1.43},{"s":"R4","c":0.85,"x":2.7,"y":-1.62},{"s":"R4","c":0.85,"x":3.43,"y":-1.81},{"s":"R4","c":0.85,"x":4.2,"y":-1.97},{"s":"R4","c":0.85,"x":4.95,"y":-2.13},{"s":"R4","c":0.85,"x":5.7,"y":-2.27},{"s":"R4","c":0.85,"x":6.47,"y":-2.4},{"s":"R4","c":0.85,"x":7.2,"y":-2.52},{"s":"R4","c":0.85,"x":7.99,"y":-2.62},{"s":"R4","c":0.85,"x":8.75,"y":-2.7},{"s":"R4","c":0.85,"x":9.5,"y":-2.78},{"s":"R4","c":0.85,"x":10.0,"y":-2.82},{"s":"R4","c":0.85,"x":10.65,"y":-2.84},{"s":"R4","c":0.85,"x":11.5,"y":-2.8},{"s":"R4","c":0.85,"x":12.35,"y":-2.82},
{"s":"R2","c":0.9,"x":-10.3,"y":1.34},{"s":"R2","c":0.9,"x":-9.7,"y":1.32},{"s":"R2","c":0.9,"x":-9.1,"y":1.3},{"s":"R2","c":0.9,"x":-8.5,"y":1.24},{"s":"R2","c":0.9,"x":-7.95,"y":1.17},{"s":"R2","c":0.9,"x":-7.3,"y":1.07},{"s":"R2","c":0.9,"x":-6.6,"y":0.96},{"s":"R2","c":0.9,"x":-6,"y":0.8},{"s":"R2","c":0.9,"x":-5.3,"y":0.63},{"s":"R2","c":0.9,"x":-4.5,"y":0.44},{"s":"R2","c":0.9,"x":-3.78,"y":0.25},{"s":"R2","c":0.9,"x":-3,"y":0.04},{"s":"R2","c":0.9,"x":-2.26,"y":-0.18},{"s":"R2","c":0.9,"x":-1.5,"y":-0.4},{"s":"R2","c":0.9,"x":-0.74,"y":-0.62},{"s":"R2","c":0.9,"x":0,"y":-0.84},{"s":"R2","c":0.9,"x":0.78,"y":-1.05},{"s":"R2","c":0.9,"x":1.5,"y":-1.26},{"s":"R2","c":0.9,"x":2.3,"y":-1.48},{"s":"R2","c":0.9,"x":3.05,"y":-1.68},{"s":"R2","c":0.9,"x":3.8,"y":-1.86},{"s":"R2","c":0.9,"x":4.55,"y":-2.03},{"s":"R2","c":0.9,"x":5.33,"y":-2.19},{"s":"R2","c":0.9,"x":6.1,"y":-2.33},{"s":"R2","c":0.9,"x":6.85,"y":-2.46},{"s":"R2","c":0.9,"x":7.6,"y":-2.58},{"s":"R2","c":0.9,"x":8.37,"y":-2.68},{"s":"R2","c":0.9,"x":9.1,"y":-2.74},{"s":"R2","c":0.9,"x":9.9,"y":-2.78},{"s":"R2","c":0.9,"x":10.6,"y":-2.83},{"s":"R2","c":0.9,"x":11.4,"y":-2.86},{"s":"R2","c":0.9,"x":12.35,"y":-2.78},
{"s":"R3","c":0.97,"x":-10.04,"y":1.1},{"s":"R3","c":0.97,"x":-9.4,"y":1.03},{"s":"R3","c":0.97,"x":-8.7,"y":0.96},{"s":"R3","c":0.97,"x":-8,"y":0.88},{"s":"R3","c":0.97,"x":-7.2,"y":0.79},{"s":"R3","c":0.97,"x":-6.4,"y":0.66},{"s":"R3","c":0.97,"x":-5.67,"y":0.52},{"s":"R3","c":0.97,"x":-4.9,"y":0.36},{"s":"R3","c":0.97,"x":-4.16,"y":0.2},{"s":"R3","c":0.97,"x":-3.4,"y":0.01},{"s":"R3","c":0.97,"x":-2.64,"y":-0.18},{"s":"R3","c":0.97,"x":-1.9,"y":-0.37},{"s":"R3","c":0.97,"x":-1.12,"y":-0.56},{"s":"R3","c":0.97,"x":-0.36,"y":-0.78},{"s":"R3","c":0.97,"x":0.4,"y":-1.0},{"s":"R3","c":0.97,"x":1.15,"y":-1.19},{"s":"R3","c":0.97,"x":1.92,"y":-1.37},{"s":"R3","c":0.97,"x":2.7,"y":-1.56},{"s":"R3","c":0.97,"x":3.43,"y":-1.75},{"s":"R3","c":0.97,"x":4.2,"y":-1.92},{"s":"R3","c":0.97,"x":4.95,"y":-2.08},{"s":"R3","c":0.97,"x":5.7,"y":-2.22},{"s":"R3","c":0.97,"x":6.47,"y":-2.35},{"s":"R3","c":0.97,"x":7.2,"y":-2.47},{"s":"R3","c":0.97,"x":7.99,"y":-2.57},{"s":"R3","c":0.97,"x":8.75,"y":-2.67},{"s":"R3","c":0.97,"x":9.5,"y":-2.75},{"s":"R3","c":0.97,"x":10.2,"y":-2.8},{"s":"R3","c":0.97,"x":11.0,"y":-2.84},{"s":"R3","c":0.97,"x":11.7,"y":-2.85},{"s":"R3","c":0.97,"x":12.45,"y":-2.84}
]
},
"vconcat":[
{"title":{"text":"Ours","orient":"left","anchor":"middle","fontSize":17,"fontWeight":"bold","color":"#1b4f93","offset":7},
 "spacing":28,
 "resolve":{"scale":{"x":"independent","y":"independent","color":"shared"}},
 "hconcat":[
  {"width":230,"height":154,"title":"Iterations 0–8",
   "encoding":{"x":{"field":"x","type":"quantitative","scale":{"domain":[-11.5,13.2],"nice":false,"zero":false},"axis":{"values":[-10,-5,0,5,10],"title":"PC 1"}},
      "y":{"field":"y","type":"quantitative","scale":{"domain":[-3.15,2.37],"nice":false,"zero":false},"axis":{"values":[-3,-2,-1,0,1,2],"title":"PC 2"}},
      "color":{"field":"c","type":"quantitative","scale":{"domain":[0,0.5,1],"range":["#c6dbef","#3a7ac4","#0b2b55"]},"legend":{"values":[0,1],"labelExpr":"datum.value > 0.5 ? 'Late' : 'Early'","title":null,"gradientLength":154,"gradientThickness":10}},
      "detail":{"field":"s","type":"nominal"}},
   "layer":[
    {"data":{"name":"tl"},"mark":{"type":"line","strokeWidth":1.2,"clip":true}},
    {"data":{"name":"tlm"},"mark":{"type":"line","strokeWidth":2.8,"interpolate":"monotone","clip":true}}
   ]},
  {"width":230,"height":154,"title":"Iterations 8–16",
   "data":{"name":"tr"},"mark":{"type":"line","strokeWidth":4,"interpolate":"monotone","clip":true},
   "encoding":{"x":{"field":"x","type":"quantitative","scale":{"domain":[-11.78,13.35],"nice":false,"zero":false},"axis":{"values":[-10,-5,0,5,10],"title":"PC 1"}},
    "y":{"field":"y","type":"quantitative","scale":{"domain":[-2.95,1.92],"nice":false,"zero":false},"axis":{"values":[-2,-1,0,1],"title":null}},
    "color":{"field":"c","type":"quantitative","scale":{"domain":[0,0.5,1],"range":["#c6dbef","#3a7ac4","#0b2b55"]}},
    "detail":{"field":"s","type":"nominal"}}}
 ]},
{"title":{"text":"Parcae","orient":"left","anchor":"middle","fontSize":17,"fontWeight":"bold","color":"#c84646","offset":7},
 "spacing":28,
 "resolve":{"scale":{"x":"independent","y":"independent","color":"shared"}},
 "hconcat":[
  {"width":230,"height":154,"title":"Recurrences 0–8",
   "data":{"name":"bl"},"mark":{"type":"line","strokeWidth":1.4,"clip":true},
   "encoding":{"x":{"field":"x","type":"quantitative","scale":{"domain":[-12.6,14.1],"nice":false,"zero":false},"axis":{"values":[-10,-5,0,5,10],"title":"PC 1"}},
    "y":{"field":"y","type":"quantitative","scale":{"domain":[-3.71,2.6],"nice":false,"zero":false},"axis":{"values":[-3,-2,-1,0,1,2],"title":"PC 2"}},
    "color":{"field":"c","type":"quantitative","scale":{"domain":[0,0.5,1],"range":["#f3d3d3","#cf5a5a","#5c1515"]},"legend":{"values":[0,1],"labelExpr":"datum.value > 0.5 ? 'Late' : 'Early'","title":null,"gradientLength":154,"gradientThickness":10}},
    "detail":{"field":"s","type":"nominal"}}},
  {"width":230,"height":154,"title":"Recurrences 8–16",
   "data":{"name":"br"},"mark":{"type":"line","strokeWidth":1.6,"clip":true},
   "encoding":{"x":{"field":"x","type":"quantitative","scale":{"domain":[-12.1,14.15],"nice":false,"zero":false},"axis":{"values":[-10,-5,0,5,10],"title":"PC 1"}},
    "y":{"field":"y","type":"quantitative","scale":{"domain":[-3.1,1.92],"nice":false,"zero":false},"axis":{"values":[-3,-2,-1,0,1],"title":null}},
    "color":{"field":"c","type":"quantitative","scale":{"domain":[0,0.5,1],"range":["#f3d3d3","#cf5a5a","#5c1515"]}},
    "detail":{"field":"s","type":"nominal"}}}
 ]}
],
"spacing":7,
"resolve":{"scale":{"color":"independent"}}
}
